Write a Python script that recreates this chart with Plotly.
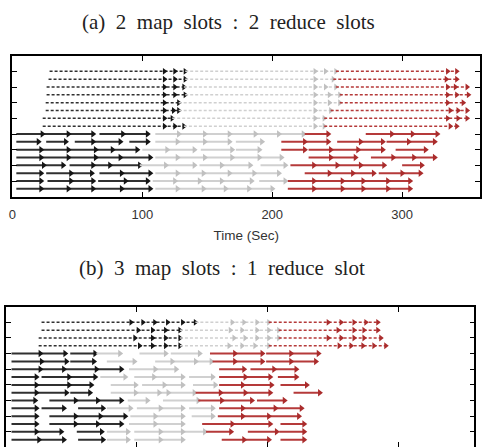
import plotly.graph_objects as go

# ---------------- data ----------------
JOB_LINE = ["#303030", "#d0d0d0", "#b53a3a"]
JOB_HEAD = ["#151515", "#c0c0c0", "#aa2c2c"]

X_TICKS = [0, 100, 200, 300]
X_LABELS = ["0", "100", "200", "300"]
Y_TICKS = [2, 4, 6, 8, 10, 12, 14, 16]

# (a) 2 map : 2 reduce  -- reduce rows (top -> bottom), shuffle start and arrow tips per job
A_RED_START = [28.6, 27.8, 26.3, 26.3, 25.6, 25.6, 23.3, 23.3]
A_RED_J1 = [[117, 125, 133], [117, 125, 133], [117, 125, 132], [117, 125, 133],
            [117, 128], [117, 124, 128], [117, 123], [117, 125, 132]]
A_RED_J2 = [[233, 241, 249], [233, 247], [233, 241, 249], [233, 244, 252],
            [233, 244, 252], [233, 245], [233, 240], [233, 240]]
A_RED_J3 = [[335, 342], [334, 342], [335, 341, 350], [335, 342, 351],
            [335, 347], [337, 343, 350], [335, 343, 350], [337, 342]]

# (a) map rows (top -> bottom): (start, end) per task
A_MAP_J1 = [
    [(3, 23), (23, 43), (43, 62), (67, 85), (85, 104)],
    [(3, 20), (26, 41), (48, 62), (62, 83), (90, 104)],
    [(3, 22), (22, 43), (43, 64), (64, 77), (77, 96)],
    [(3, 22), (22, 43), (43, 64), (64, 83), (83, 106)],
    [(3, 24), (24, 39), (44, 62), (62, 75), (75, 98)],
    [(3, 22), (26, 45), (45, 61), (67, 84), (84, 106)],
    [(3, 22), (27, 45), (45, 62), (66, 87), (87, 104)],
    [(3, 22), (22, 43), (43, 62), (62, 84), (84, 106)],
]
A_MAP_J2 = [
    [(110, 128), (128, 148), (148, 167), (167, 187), (187, 205), (205, 224)],
    [(110, 127), (127, 148), (148, 167), (172, 192)],
    [(100, 119), (119, 140), (145, 169), (172, 190)],
    [(110, 127), (127, 148), (148, 169), (169, 190), (190, 207)],
    [(98, 118), (118, 140), (144, 161), (161, 183), (191, 210)],
    [(110, 127), (127, 147), (147, 167), (167, 186), (186, 205)],
    [(108, 125), (125, 144), (144, 161), (161, 184), (190, 210)],
    [(110, 127), (127, 147), (147, 164), (164, 182), (182, 200)],
]
A_MAP_J3 = [
    [(225, 243), (272, 292), (292, 308), (308, 327)],
    [(207, 225), (225, 243), (250, 268), (268, 285), (288, 305), (305, 325)],
    [(207, 225), (228, 245), (245, 266), (266, 285), (295, 318)],
    [(228, 245), (245, 264), (276, 293), (293, 309), (309, 325)],
    [(214, 232), (232, 250), (250, 268), (268, 286), (300, 315)],
    [(225, 244), (244, 262), (262, 278), (282, 300), (300, 314)],
    [(212, 232), (232, 254), (254, 270), (270, 289), (289, 306)],
    [(212, 232), (232, 254), (254, 270), (270, 289), (289, 306)],
]

# (b) 3 map : 1 reduce
B_RED_START = [27, 27, 24.8, 24.8]
B_RED_J1 = [[95.5, 104.6, 113.7, 123.5, 135, 144.8], [101, 112, 122, 133],
            [98.5, 112, 122, 133], [102, 112, 122, 133]]
B_RED_J2 = [[173, 182, 192, 201], [171.5, 180.5, 192, 201, 208.6],
            [174.4, 182.8, 192, 201, 208.6], [170.6, 180.5, 190.4, 201]]
B_RED_J3 = [[246.5, 256.4, 266.3, 275.4, 284.5], [254.1, 266.3, 273.9, 284.5],
            [246.5, 256.4, 266.3, 273.9, 286.8], [254.9, 264, 273.1, 281.5, 290.6]]

B_MAP_J1 = [
    [(4, 26), (26, 45), (49, 68)],
    [(4, 27), (27, 46), (49, 67)],
    [(4, 26), (26, 44), (44, 69), (69, 88)],
    [(4, 23), (27, 48), (48, 68)],
    [(4, 23), (23, 48), (48, 65)],
    [(4, 23), (23, 46), (49, 64)],
    [(4, 22), (33, 53), (53, 70), (70, 88)],
    [(4, 23), (27, 44), (55, 74)],
    [(4, 23), (33, 53), (53, 72), (72, 91)],
    [(4, 23), (33, 53), (53, 70), (70, 88)],
    [(4, 23), (23, 42), (54, 73)],
    [(4, 25), (25, 44), (55, 74)],
]
B_MAP_J2 = [
    [(69, 87), (102, 122), (126, 148)],
    [(77, 98), (114, 127), (127, 145), (145, 157)],
    [(94, 114), (114, 130)],
    [(72, 91), (98, 113), (113, 135), (140, 158)],
    [(80, 99), (104, 121), (121, 135), (143, 160)],
    [(80, 99), (99, 117), (117, 124), (125, 144)],
    [(93, 108), (120, 147)],
    [(77, 95), (100, 118), (118, 135), (140, 158)],
    [(95, 114), (114, 135), (142, 158)],
    [(94, 114), (114, 135)],
    [(77, 93), (98, 118), (118, 135), (135, 152)],
    [(77, 93), (98, 118), (118, 135)],
]
B_MAP_J3 = [
    [(156, 175), (175, 196), (199, 218), (218, 239)],
    [(158, 175), (175, 196), (199, 218), (218, 237)],
    [(163, 182), (187, 205), (205, 222)],
    [(163, 183), (183, 202), (208, 222)],
    [(163, 181), (181, 203), (210, 230)],
    [(145, 164), (164, 183), (183, 202), (220, 240)],
    [(147, 165), (165, 188), (192, 213)],
    [(163, 181), (181, 206), (206, 226)],
    [(162, 181), (181, 201), (201, 224)],
    [(150, 173), (173, 202), (210, 228)],
    [(153, 172), (185, 207), (209, 228)],
    [(165, 182), (182, 201), (210, 228)],
]

TITLE_A = "(a)\u00a0 2\u00a0 map\u00a0 slots\u00a0 :\u00a0 2\u00a0 reduce\u00a0 slots"
TITLE_B = "(b)\u00a0 3\u00a0 map\u00a0 slots\u00a0 :\u00a0 1\u00a0 reduce\u00a0 slot"
X_TITLE = "Time (Sec)"

# ---------------- figure ----------------
fig = go.Figure()


def add_panel(fig, xref, yref, red_start, red_jobs, map_jobs):
    n_red = len(red_start)
    n_map = len(map_jobs[0])
    top = 16
    # reduce rows (dashed)
    for j in range(3):
        lx, ly, hx, hy = [], [], [], []
        for r in range(n_red):
            y = top - r
            if j == 0:
                s = red_start[r]
            else:
                s = red_jobs[j - 1][r][-1]
            tips = red_jobs[j][r]
            lx += [s, tips[-1], None]
            ly += [y, y, None]
            hx += tips
            hy += [y] * len(tips)
        fig.add_trace(go.Scatter(x=lx, y=ly, mode="lines", xaxis=xref, yaxis=yref,
                                 line=dict(color=JOB_LINE[j], width=1.5, dash="3px,2px"),
                                 hoverinfo="skip"))
        fig.add_trace(go.Scatter(x=hx, y=hy, mode="markers", xaxis=xref, yaxis=yref,
                                 marker=dict(symbol="triangle-right", size=6,
                                             color=JOB_HEAD[j], line=dict(width=0)),
                                 hoverinfo="skip"))
    # map rows (solid)
    for j in range(3):
        lx, ly, hx, hy = [], [], [], []
        for r in range(n_map):
            y = top - n_red - r
            for (s, e) in map_jobs[j][r]:
                lx += [s, e, None]
                ly += [y, y, None]
                hx.append(e)
                hy.append(y)
        fig.add_trace(go.Scatter(x=lx, y=ly, mode="lines", xaxis=xref, yaxis=yref,
                                 line=dict(color=JOB_LINE[j], width=2),
                                 hoverinfo="skip"))
        fig.add_trace(go.Scatter(x=hx, y=hy, mode="markers", xaxis=xref, yaxis=yref,
                                 marker=dict(symbol="triangle-right", size=6.5,
                                             color=JOB_HEAD[j], line=dict(width=0)),
                                 hoverinfo="skip"))


add_panel(fig, "x", "y", A_RED_START, [A_RED_J1, A_RED_J2, A_RED_J3],
          [A_MAP_J1, A_MAP_J2, A_MAP_J3])
add_panel(fig, "x2", "y2", B_RED_START, [B_RED_J1, B_RED_J2, B_RED_J3],
          [B_MAP_J1, B_MAP_J2, B_MAP_J3])

W, H = 487, 447
axis_common = dict(showline=True, linecolor="#000000", linewidth=1.6, mirror="allticks",
                   ticks="inside", ticklen=5, tickcolor="#000000", tickwidth=1,
                   showgrid=False, zeroline=False)

fig.update_layout(
    width=W, height=H,
    margin=dict(l=0, r=0, t=0, b=0),
    paper_bgcolor="white", plot_bgcolor="white",
    showlegend=False,
    xaxis=dict(domain=[8.5 / W, 480 / W], range=[0, 360], tickvals=X_TICKS, ticktext=X_LABELS,
               tickfont=dict(family="Liberation Sans, Arial", size=13, color="#333333"),
               ticklabelstandoff=5,
               title=dict(text=X_TITLE, standoff=9,
                          font=dict(family="Liberation Sans, Arial", size=13.5, color="#333333")),
               anchor="y", **axis_common),
    yaxis=dict(domain=[1 - 196.7 / H, 1 - 55.7 / H], range=[0, 18], tickvals=Y_TICKS,
               showticklabels=False, anchor="x", **axis_common),
    xaxis2=dict(domain=[2.3 / W, 474.3 / W], range=[0, 358.5], tickvals=X_TICKS,
                showticklabels=False, anchor="y2", **axis_common),
    yaxis2=dict(domain=[0, 1 - 306.7 / H], range=[0.06, 18], tickvals=Y_TICKS,
                showticklabels=False, anchor="x2", **axis_common),
    annotations=[
        dict(text=TITLE_A, x=226 / W, y=1 - 22 / H, xref="paper", yref="paper",
             showarrow=False, xanchor="center", yanchor="middle",
             font=dict(family="Liberation Serif, Times New Roman", size=21, color="#222222")),
        dict(text=TITLE_B, x=220 / W, y=1 - 268 / H, xref="paper", yref="paper",
             showarrow=False, xanchor="center", yanchor="middle",
             font=dict(family="Liberation Serif, Times New Roman", size=21, color="#222222")),
    ],
)

fig.write_html("out.html")
